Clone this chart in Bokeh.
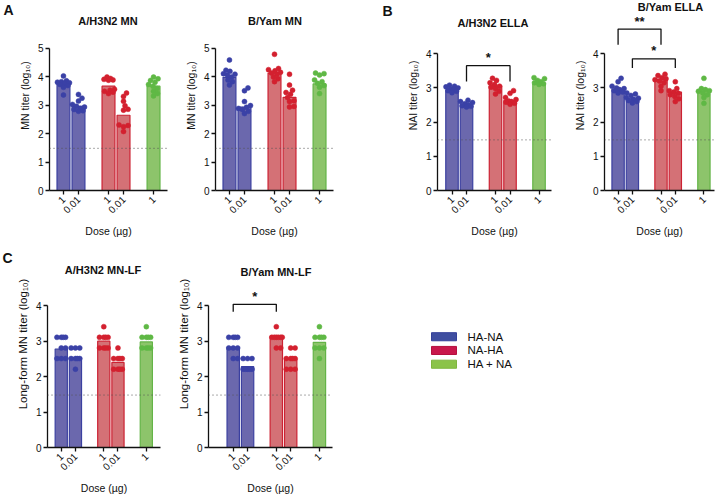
import math
from bokeh.plotting import figure
from bokeh.models import Range1d, FixedTicker, Span, Label, ColumnDataSource
from bokeh.layouts import column, row
from bokeh.embed import file_html
from bokeh.resources import INLINE
from bokeh.core.properties import value

# ---------------- data ----------------
positions = [1, 2, 4, 5, 7]
dose_labels = ["1", "0.01", "1", "0.01", "1"]
regimens = ["HA-NA", "HA-NA", "NA-HA", "NA-HA", "HA + NA"]
legend_labels = ["HA-NA", "NA-HA", "HA + NA"]
lod = 1.48

h3n2_mn_bars = [3.76, 2.95, 3.66, 2.64, 3.66]
h3n2_mn_points = [
    [4.02, 3.85, 3.82, 3.80, 3.78, 3.76, 3.72, 3.68, 3.62, 3.35],
    [3.37, 3.24, 3.14, 3.02, 2.96, 2.93, 2.88, 2.84, 2.80, 2.78],
    [3.98, 3.93, 3.90, 3.88, 3.87, 3.55, 3.52, 3.48, 3.45, 3.40],
    [3.42, 3.30, 3.13, 2.97, 2.85, 2.82, 2.30, 2.28, 2.24, 2.07],
    [3.98, 3.92, 3.86, 3.80, 3.72, 3.66, 3.58, 3.48, 3.40, 3.32],
]

byam_mn_bars = [3.97, 2.93, 4.12, 3.27, 3.74]
byam_mn_points = [
    [4.58, 4.22, 4.18, 4.10, 4.08, 4.05, 3.98, 3.88, 3.82, 3.70],
    [3.60, 3.50, 3.12, 2.98, 2.92, 2.88, 2.84, 2.78, 2.70],
    [4.78, 4.28, 4.24, 4.20, 4.15, 4.12, 4.08, 3.98, 3.92, 3.82],
    [4.08, 3.70, 3.52, 3.44, 3.38, 3.26, 3.15, 3.12, 2.95, 2.93],
    [4.12, 4.10, 4.05, 3.88, 3.82, 3.76, 3.68, 3.62, 3.40],
]

h3n2_ella_bars = [2.94, 2.48, 3.06, 2.63, 3.12]
h3n2_ella_points = [
    [3.08, 3.05, 3.03, 3.00, 2.97, 2.95, 2.92, 2.90, 2.86],
    [2.64, 2.60, 2.57, 2.54, 2.50, 2.48, 2.46, 2.44],
    [3.28, 3.22, 3.15, 3.10, 3.05, 3.02, 2.98, 2.90, 2.82],
    [2.92, 2.84, 2.72, 2.66, 2.62, 2.60, 2.58, 2.55, 2.52],
    [3.30, 3.27, 3.22, 3.18, 3.15, 3.12, 3.10],
]

byam_ella_bars = [2.96, 2.70, 3.25, 2.88, 2.91]
byam_ella_points = [
    [3.28, 3.18, 3.05, 3.00, 2.98, 2.95, 2.92, 2.88, 2.85],
    [2.85, 2.82, 2.78, 2.72, 2.70, 2.67, 2.63, 2.60, 2.56],
    [3.40, 3.36, 3.30, 3.27, 3.24, 3.20, 3.15, 3.05, 2.92],
    [3.18, 2.98, 2.92, 2.88, 2.84, 2.80, 2.75, 2.68, 2.60],
    [3.28, 2.98, 2.95, 2.92, 2.90, 2.85, 2.80, 2.72, 2.55],
]

h3n2_lf_bars = [2.78, 2.54, 3.00, 2.40, 2.98]
h3n2_lf_points = [
    [3.11, 3.11, 3.11, 3.11, 2.81, 2.81, 2.51, 2.51, 2.51],
    [2.81, 2.81, 2.81, 2.51, 2.51, 2.51, 2.51, 2.21],
    [3.41, 3.11, 3.11, 3.11, 3.11, 2.81, 2.81, 2.81, 2.81],
    [2.81, 2.51, 2.51, 2.51, 2.51, 2.21, 2.21, 2.21, 2.21],
    [3.41, 3.11, 3.11, 3.11, 3.11, 2.81, 2.81, 2.81, 2.81],
]

byam_lf_bars = [2.83, 2.28, 3.15, 2.50, 2.97]
byam_lf_points = [
    [3.11, 3.11, 3.11, 3.11, 2.81, 2.81, 2.81, 2.51, 2.51],
    [2.51, 2.51, 2.51, 2.21, 2.21, 2.21, 2.21, 2.21],
    [3.41, 3.11, 3.11, 3.11, 3.11, 3.11, 3.11, 2.81, 2.81],
    [2.81, 2.81, 2.51, 2.51, 2.51, 2.51, 2.21, 2.21, 2.21],
    [3.41, 3.11, 3.11, 3.11, 3.11, 2.81, 2.81, 2.81, 2.51],
]

# significance brackets: (from position, to position, bracket top, leg end, label)
h3n2_ella_sig = [(2, 5, 3.65, 3.19, "*")]
byam_ella_sig = [(1, 4, 4.72, 4.26, "**"), (2, 5, 3.85, 3.58, "*")]
byam_lf_sig = [(1, 4, 4.04, 3.83, "*")]

# ---------------- style ----------------
FONT = "Liberation Sans"
INK = "#111111"
fills = {"HA-NA": "#6b68ad", "NA-HA": "#d47176", "HA + NA": "#8dc46b"}
lines = {"HA-NA": "#3b40a0", "NA-HA": "#cc2233", "HA + NA": "#64b447"}
dots = {"HA-NA": "#3a41a6", "NA-HA": "#d3202f", "HA + NA": "#5fb845"}
legend_fill = {"HA-NA": "#3f4ea0", "NA-HA": "#c8174b", "HA + NA": "#8bc34a"}
legend_line = {"HA-NA": "#34409a", "NA-HA": "#b5103f", "HA + NA": "#7fb53f"}


def swarm(vals, px_x, px_y, d=4.4, lim=6.0):
    cands = [0.0]
    k = 1
    while k * 0.5 <= lim:
        cands += [k * 0.5, -k * 0.5]
        k += 1
    placed = []
    offs = [0.0] * len(vals)
    for i in sorted(range(len(vals)), key=lambda j: vals[j]):
        y = vals[i] * px_y
        best_c, best_md = 0.0, -1.0
        for c in cands:
            md = min((math.hypot(c - qx, y - qy) for qx, qy in placed), default=1e9)
            if md >= d:
                best_c = c
                break
            if md > best_md:
                best_md, best_c = md, c
        placed.append((best_c, y))
        offs[i] = best_c / px_x
    return offs


def blank_fig(w, h):
    # pixel-like coordinates: x to the right, y downward from the figure's top
    p = figure(width=w, height=h, x_range=Range1d(0, w), y_range=Range1d(h, 0),
               title=None, toolbar_location=None, output_backend="svg",
               x_axis_location=None, y_axis_location=None, min_border=0)
    p.outline_line_color = None
    p.grid.visible = False
    p.background_fill_color = "white"
    p.border_fill_color = "white"
    return p


def letter_fig(w, h, letter, lx, ly):
    p = blank_fig(w, h)
    p.text(x=[lx], y=[ly], text=[letter], text_align="left", text_baseline="middle",
           text_font=value(FONT), text_font_size="14px", text_font_style="bold",
           text_color=INK)
    return p


def make_panel(cfg):
    w, h = cfg["w"], cfg["h"]
    mbl, mbr, mbb = cfg["mbl"], cfg["mbr"], cfg["mbb"]
    x0, x1 = cfg["xr"]
    fw = w - mbl - mbr
    fh = h - mbb
    pxx = fw / (x1 - x0)
    pxy = cfg["pxy"]
    y1 = fh / pxy
    fl = cfg["left"] + mbl          # page x of frame left
    fb = cfg["top"] + fh            # page y of frame bottom

    def to_data(px, py):
        return x0 + (px - fl) / pxx, (fb - py) / pxy

    p = figure(width=w, height=h, x_range=Range1d(x0, x1), y_range=Range1d(0, y1),
               title=None, toolbar_location=None, output_backend="svg",
               min_border_left=mbl, min_border_right=mbr, min_border_top=0,
               min_border_bottom=mbb)
    p.outline_line_color = None
    p.grid.visible = False
    p.background_fill_color = "white"
    p.border_fill_color = "white"

    # axes
    ym = cfg["ymax"]
    p.yaxis.ticker = FixedTicker(ticks=list(range(0, ym + 1)))
    p.yaxis.bounds = (0, ym)
    p.yaxis.axis_label = cfg["ylabel"]
    p.yaxis.axis_label_text_font_size = cfg.get("ylabel_size", "10.5px")
    p.yaxis.axis_label_standoff = 4
    p.yaxis.major_label_standoff = 2
    p.xaxis.ticker = FixedTicker(ticks=positions)
    p.xaxis.major_label_overrides = {pp: lab for pp, lab in zip(positions, dose_labels)}
    p.xaxis.major_label_orientation = math.pi / 4
    p.xaxis.axis_label = "Dose (µg)"
    p.xaxis.axis_label_text_font_size = "10.5px"
    p.xaxis.axis_label_standoff = 5
    p.xaxis.major_label_standoff = 3
    for ax in (p.xaxis[0], p.yaxis[0]):
        ax.axis_line_width = 1.3
        ax.axis_line_color = INK
        ax.major_tick_line_width = 1.3
        ax.major_tick_line_color = INK
        ax.major_tick_out = 4
        ax.major_tick_in = 0
        ax.minor_tick_line_color = None
        ax.major_label_text_font = FONT
        ax.major_label_text_font_size = "10px"
        ax.major_label_text_color = INK
        ax.axis_label_text_font = FONT
        ax.axis_label_text_font_style = "normal"
        ax.axis_label_text_color = INK

    # bars
    src = ColumnDataSource(dict(x=positions, top=cfg["bars"],
                                fill=[fills[g] for g in regimens],
                                line=[lines[g] for g in regimens]))
    p.vbar(x="x", top="top", bottom=0, width=0.86, fill_color="fill",
           line_color="line", line_width=1.2, source=src)

    # points
    xs, ys, cs = [], [], []
    for pos, g, vals in zip(positions, regimens, cfg["points"]):
        offs = swarm(vals, pxx, pxy)
        xs += [pos + o for o in offs]
        ys += list(vals)
        cs += [dots[g]] * len(vals)
    p.scatter(x=xs, y=ys, size=5, fill_color=cs, line_color=cs, line_width=0.5)

    # limit of detection
    p.add_layout(Span(location=lod, dimension="width", line_color="#555555",
                      line_width=1, line_dash="1 3"))

    # significance brackets
    for a, b, ytop, yleg, star in cfg.get("sig", []):
        p.line(x=[a, a, b, b], y=[yleg, ytop, ytop, yleg], line_color=INK,
               line_width=1.3)
        p.add_layout(Label(x=(a + b) / 2, y=ytop + 8 / pxy, text=star,
                           text_align="center", text_baseline="middle",
                           text_font=FONT, text_font_size="13px",
                           text_font_style="bold", text_color=INK))

    # panel title (inside the frame, which reaches the top of the figure)
    tx, ty = to_data(*cfg["title_xy"])
    p.add_layout(Label(x=tx, y=ty, text=cfg["title"], text_align="center",
                       text_baseline="middle", text_font=FONT, text_font_size="11px",
                       text_font_style="bold", text_color=INK))
    return p


TOP_H, BOT_H = 240, 256
panels_top = [
    dict(w=158, h=TOP_H, mbl=35, mbr=5, mbb=50, xr=(0.07, 7.93), pxy=28.5, ymax=5,
         left=14, top=0, ylabel="MN titer (log₁₀)", bars=h3n2_mn_bars,
         points=h3n2_mn_points, title="A/H3N2 MN", title_xy=(107.5, 20.5)),
    dict(w=202, h=TOP_H, mbl=43, mbr=41, mbb=50, xr=(0.07, 7.93), pxy=28.5, ymax=5,
         left=172, top=0, ylabel="MN titer (log₁₀)", bars=byam_mn_bars,
         points=byam_mn_points, title="B/Yam MN", title_xy=(274.5, 20.5)),
    dict(w=170, h=TOP_H, mbl=42, mbr=14, mbb=50, xr=(0.0, 7.86), pxy=34.2, ymax=4,
         left=395, top=0, ylabel="NAI titer (log₁₀)", bars=h3n2_ella_bars,
         points=h3n2_ella_points, title="A/H3N2 ELLA", title_xy=(492.5, 22),
         sig=h3n2_ella_sig),
    dict(w=154, h=TOP_H, mbl=39, mbr=5, mbb=50, xr=(0.05, 7.74), pxy=34.2, ymax=4,
         left=565, top=0, ylabel="NAI titer (log₁₀)", bars=byam_ella_bars,
         points=byam_ella_points, title="B/Yam ELLA", title_xy=(670, 6.5),
         sig=byam_ella_sig),
]
panels_bot = [
    dict(w=161, h=BOT_H, mbl=29, mbr=14, mbb=48, xr=(0.03, 8.0), pxy=35.6, ymax=4,
         left=13, top=240, ylabel="Long-form MN titer (log₁₀)", ylabel_size="11.5px",
         bars=h3n2_lf_bars, points=h3n2_lf_points, title="A/H3N2 MN-LF",
         title_xy=(100, 269.5)),
    dict(w=171, h=BOT_H, mbl=32, mbr=13, mbb=48, xr=(-0.72, 7.91), pxy=35.6, ymax=4,
         left=174, top=240, ylabel="Long-form MN titer (log₁₀)", ylabel_size="11.5px",
         bars=byam_lf_bars, points=byam_lf_points, title="B/Yam MN-LF",
         title_xy=(274.5, 272), sig=byam_lf_sig),
]

a1, a2, b1, b2 = [make_panel(c) for c in panels_top]
c1, c2 = [make_panel(c) for c in panels_bot]

letter_a = letter_fig(14, TOP_H, "A", 3, 11.5)
letter_b = letter_fig(21, TOP_H, "B", 8, 13.5)
letter_c = letter_fig(13, BOT_H, "C", 2, 21.5)

# legend panel (swatch + label per regimen), laid out in pixel-like coordinates
LEG_LEFT, LEG_W = 345, 374
sw_x, sw_w, sw_h = 431 - LEG_LEFT, 25, 10     # swatch left edge and size
row_y0, row_step = 359 - 240, 17              # first row centre, row pitch
label_gap = 11
leg_fig = blank_fig(LEG_W, BOT_H)
n = len(legend_labels)
leg_src = ColumnDataSource(dict(
    x=[sw_x + sw_w / 2] * n,
    y=[row_y0 + i * row_step for i in range(n)],
    tx=[sw_x + sw_w + label_gap] * n,
    label=legend_labels,
    fill=[legend_fill[k] for k in legend_labels],
    line=[legend_line[k] for k in legend_labels]))
leg_fig.rect(x="x", y="y", width=sw_w, height=sw_h, fill_color="fill",
             line_color="line", line_width=1, source=leg_src)
leg_fig.text(x="tx", y="y", text="label", text_align="left", text_baseline="middle",
             text_font=value(FONT), text_font_size="11.5px", text_color=INK,
             source=leg_src)

layout = column(row(letter_a, a1, a2, letter_b, b1, b2, spacing=0),
                row(letter_c, c1, c2, leg_fig, spacing=0), spacing=0)

open("out.html", "w").write(file_html(layout, INLINE, title="Antibody titers"))
